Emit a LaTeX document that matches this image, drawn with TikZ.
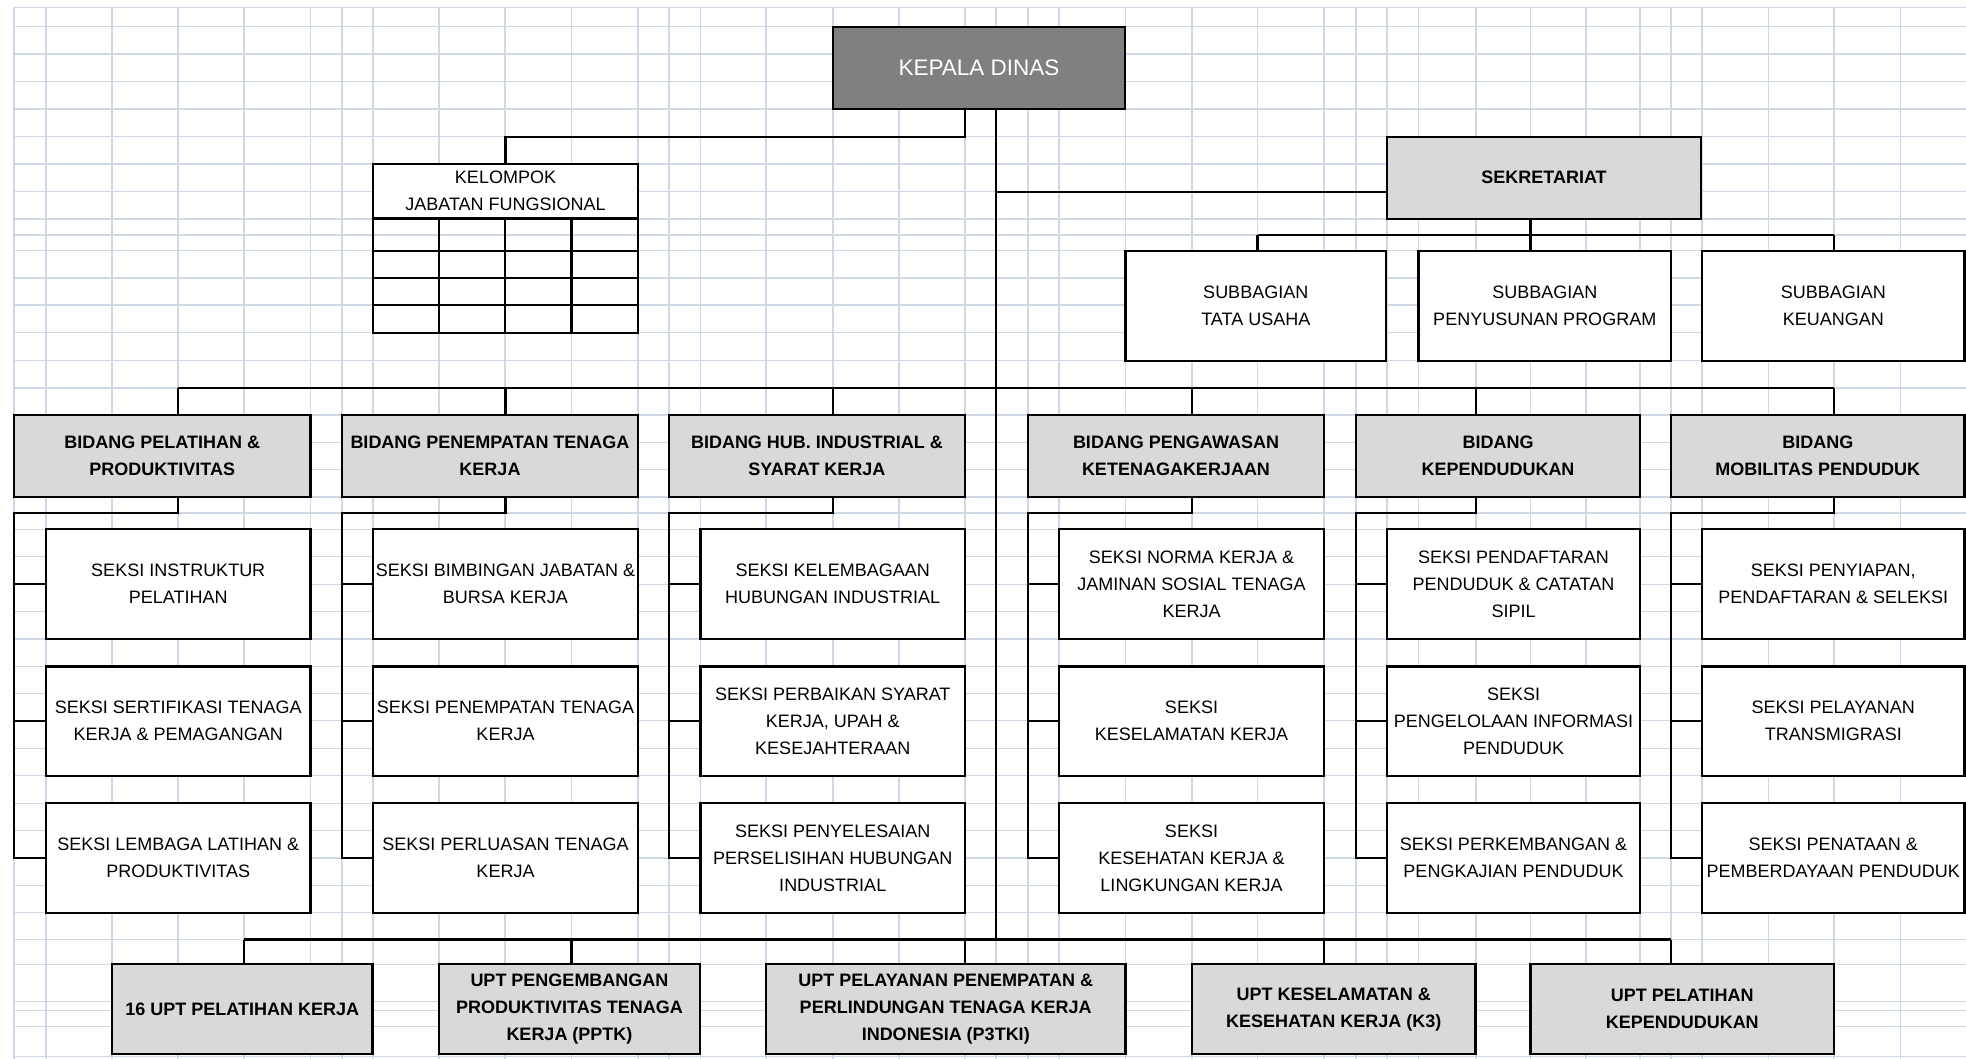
\documentclass[tikz,border=0pt]{standalone}
\usepackage{fontspec}
\setmainfont{Liberation Sans}
\usepackage{tikz}
\usetikzlibrary{calc}

\definecolor{gridblue}{RGB}{208,215,229}
\definecolor{headgray}{RGB}{128,128,128}
\definecolor{unitgray}{RGB}{217,217,217}

\tikzset{
  every picture/.append style={line width=2pt},
  every node/.append style={font=\fontsize{18}{27}\selectfont},
}
\tikzset{
  box/.style={draw, line width=2.3pt, align=center, inner sep=2pt, outer sep=0pt, anchor=north west},
  link/.style={line width=2.1pt},
  gridln/.style={draw=gridblue, line width=1.5pt}
}

\begin{document}
\begin{tikzpicture}[
  x=1pt, y=-1pt,
  kadisbox/.style={box, fill=headgray, text=white, font=\fontsize{22.5}{26}\selectfont, minimum width=292, minimum height=82},
  upbox/.style={box, fill=unitgray, font=\fontsize{18}{27}\selectfont\bfseries},
  bidang/.style={upbox, minimum width=#1, minimum height=82},
  upt/.style={upbox, minimum width=#1, minimum height=89.7},
  seksi/.style={box, fill=white, minimum width=#1, minimum height=109.5},
  subbag/.style={box, fill=white, minimum width=#1, minimum height=110}
]
\useasboundingbox (0,0) rectangle (1966,1059);

% spreadsheet grid in the background
\foreach \x in {14,46,112,178,244,310.5,342,373,439,505,571.5,638,669,700.5,766,833,899,965,996,1028,1059,1125.5,1192,1257.5,1324,1356,1387,1418.5,1476,1530.5,1586,1640,1671,1702,1768.5,1834,1900.5}
  \draw[gridln] (\x,7.3) -- (\x,1059);
\foreach \y in {7.3,26.7,54,81.7,109,136.7,164,191.7,219,235,250.7,278,305,332.7,360.5,388,415,442.6,469.3,497,513,529.3,556.7,584.3,611.7,639,666.5,693.3,720.7,748.3,775.7,803.3,830.7,858,885.7,912.3,939.5,964.3,1001.7,1010.7,1026.7,1056.7}
  \draw[gridln] (14,\y) -- (1966,\y);

% top
\node[kadisbox] (kadis) at (833,27) {KEPALA DINAS};
\node[box, fill=white, minimum width=265, minimum height=54.5] (kjf) at (373,164) {KELOMPOK\\JABATAN FUNGSIONAL};
\draw[line width=2.3pt] (kjf.south west) rectangle (638,332.7);
\foreach \y in {250.7,278,305}
  \draw[line width=2.3pt] (373,\y) -- (638,\y);
\foreach \x in {439,505,571.5}
  \draw[line width=2.3pt] (\x,218.5) -- (\x,332.7);

% sekretariat
\node[upbox, minimum width=314, minimum height=82] (sekr) at (1387,136.7) {SEKRETARIAT};
\node[subbag=260.5] (sub1) at (1125.5,250.7) {SUBBAGIAN\\TATA USAHA};
\node[subbag=252.5] (sub2) at (1418.5,250.7) {SUBBAGIAN\\PENYUSUNAN PROGRAM};
\node[subbag=262.5] (sub3) at (1702,250.7) {SUBBAGIAN\\KEUANGAN};

% bidang
\node[bidang=296.5] (bid1) at (14,415) {BIDANG PELATIHAN \&\\PRODUKTIVITAS};
\node[bidang=296] (bid2) at (342,415) {BIDANG PENEMPATAN TENAGA\\KERJA};
\node[bidang=296] (bid3) at (669,415) {BIDANG HUB. INDUSTRIAL \&\\SYARAT KERJA};
\node[bidang=296] (bid4) at (1028,415) {BIDANG PENGAWASAN\\KETENAGAKERJAAN};
\node[bidang=284] (bid5) at (1356,415) {BIDANG\\KEPENDUDUKAN};
\node[bidang=293.5] (bid6) at (1671,415) {BIDANG\\MOBILITAS PENDUDUK};

% seksi, column 1
\node[seksi=264.5] (s11) at (46,529.3) {SEKSI INSTRUKTUR\\PELATIHAN};
\node[seksi=264.5] (s12) at (46,666.5) {SEKSI SERTIFIKASI TENAGA\\KERJA \& PEMAGANGAN};
\node[seksi=264.5] (s13) at (46,803.3) {SEKSI LEMBAGA LATIHAN \&\\PRODUKTIVITAS};
% seksi, column 2
\node[seksi=265] (s21) at (373,529.3) {SEKSI BIMBINGAN JABATAN \&\\BURSA KERJA};
\node[seksi=265] (s22) at (373,666.5) {SEKSI PENEMPATAN TENAGA\\KERJA};
\node[seksi=265] (s23) at (373,803.3) {SEKSI PERLUASAN TENAGA\\KERJA};
% seksi, column 3
\node[seksi=264.5] (s31) at (700.5,529.3) {SEKSI KELEMBAGAAN\\HUBUNGAN INDUSTRIAL};
\node[seksi=264.5] (s32) at (700.5,666.5) {SEKSI PERBAIKAN SYARAT\\KERJA, UPAH \&\\KESEJAHTERAAN};
\node[seksi=264.5] (s33) at (700.5,803.3) {SEKSI PENYELESAIAN\\PERSELISIHAN HUBUNGAN\\INDUSTRIAL};
% seksi, column 4
\node[seksi=265] (s41) at (1059,529.3) {SEKSI NORMA KERJA \&\\JAMINAN SOSIAL TENAGA\\KERJA};
\node[seksi=265] (s42) at (1059,666.5) {SEKSI\\KESELAMATAN KERJA};
\node[seksi=265] (s43) at (1059,803.3) {SEKSI\\KESEHATAN KERJA \&\\LINGKUNGAN KERJA};
% seksi, column 5
\node[seksi=253] (s51) at (1387,529.3) {SEKSI PENDAFTARAN\\PENDUDUK \& CATATAN\\SIPIL};
\node[seksi=253] (s52) at (1387,666.5) {SEKSI\\PENGELOLAAN INFORMASI\\PENDUDUK};
\node[seksi=253] (s53) at (1387,803.3) {SEKSI PERKEMBANGAN \&\\PENGKAJIAN PENDUDUK};
% seksi, column 6
\node[seksi=262.5] (s61) at (1702,529.3) {SEKSI PENYIAPAN,\\PENDAFTARAN \& SELEKSI};
\node[seksi=262.5] (s62) at (1702,666.5) {SEKSI PELAYANAN\\TRANSMIGRASI};
\node[seksi=262.5] (s63) at (1702,803.3) {SEKSI PENATAAN \&\\PEMBERDAYAAN PENDUDUK};

% UPT
\node[upt=260.5] (upt1) at (112,964.3) {16 UPT PELATIHAN KERJA};
\node[upt=261] (upt2) at (439,964.3) {UPT PENGEMBANGAN\\PRODUKTIVITAS TENAGA\\KERJA (PPTK)};
\node[upt=359.5] (upt3) at (766,964.3) {UPT PELAYANAN PENEMPATAN \&\\PERLINDUNGAN TENAGA KERJA\\INDONESIA (P3TKI)};
\node[upt=283.5] (upt4) at (1192,964.3) {UPT KESELAMATAN \&\\KESEHATAN KERJA (K3)};
\node[upt=303.5] (upt5) at (1530.5,964.3) {UPT PELATIHAN\\KEPENDUDUKAN};

% tap points on the bars
\coordinate (kt) at (965,136.7);
\coordinate (st) at (996,191.7);
\coordinate (base) at (996,939.5);
\foreach \i/\x in {1/1257.5,2/1530.5,3/1834}
  \coordinate (r\i) at (\x,235);
\foreach \i/\x in {1/178,2/505.5,3/833,4/1192,5/1476,6/1834}
  \coordinate (q\i) at (\x,388);
\foreach \i/\x in {1/244,2/571.5,3/965,4/1324,5/1671}
  \coordinate (p\i) at (\x,939.5);

% connectors
\draw[link] (kadis.south -| base) -- (base);
\draw[link] (kadis.south -| kt) -- (kt) -| (kjf.north);
\draw[link] (st) -- (st -| sekr.west);
\draw[link] (sekr.south -| r2) -- (r2);
\draw[link] (r1) -- (r3);
\foreach \i in {1,2,3}
  \draw[link] (r\i) -- (r\i |- sub\i.north);
\draw[link] (q1) -- (q6);
\foreach \i in {1,...,6} {
  \draw[link] (q\i) -- (q\i |- bid\i.north);
  \draw[link] (bid\i.south -| q\i) -- ++(0,16) -| (s\i3.west -| bid\i.west) -- (s\i3.west);
  \draw[link] (s\i1.west -| bid\i.west) -- (s\i1.west);
  \draw[link] (s\i2.west -| bid\i.west) -- (s\i2.west);
}
\draw[link] (p1) -- (p5);
\foreach \i in {1,...,5}
  \draw[link] (p\i) -- (p\i |- upt\i.north);

\end{tikzpicture}
\end{document}
